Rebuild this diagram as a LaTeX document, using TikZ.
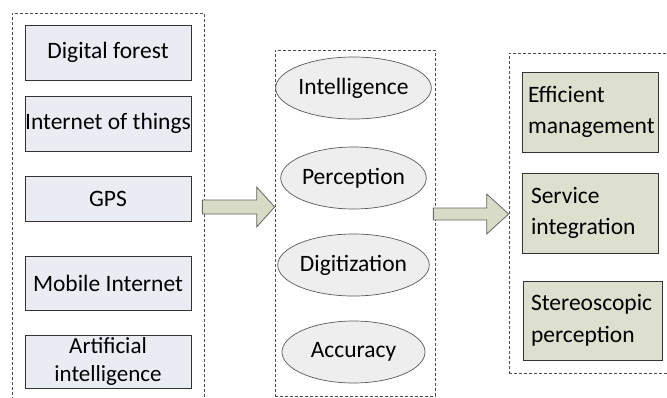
\documentclass[tikz,border=0pt]{standalone}
\usepackage{fontspec}
\setmainfont{Carlito}
\usetikzlibrary{positioning,calc,shapes.geometric}

\definecolor{leftfill}{HTML}{E9ECF3}
\definecolor{ovalfill}{HTML}{EEEEEE}
\definecolor{rightfill}{HTML}{DDDFCF}
\definecolor{arrowfill}{HTML}{D8DCC6}

\begin{document}
\begin{tikzpicture}[x=1pt, y=-1pt,
      frame/.style = {draw=black!70, dashed, dash pattern=on 3pt off 2pt, line width=0.7pt, inner sep=0pt},
      src/.style = {draw=black!80, line width=0.9pt, fill=leftfill, minimum width=166pt, inner sep=0pt, align=center},
      oval/.style = {draw=black!65, line width=0.7pt, fill=ovalfill, ellipse, minimum width=143pt, minimum height=62pt, inner sep=0pt},
      goal/.style = {draw=black!80, line width=0.9pt, fill=rightfill, inner xsep=6pt, align=left},
      fatarrow/.style = {draw=black!60, line width=0.8pt, fill=arrowfill, line join=miter},
      font=\fontsize{23.5}{31.5}\selectfont]
      \clip (0,0) rectangle (667,397);

      % dashed frames
      \node[frame, minimum width=192pt, minimum height=397pt] (lf) at (108,211.5) {};
      \node[frame, minimum width=160pt, minimum height=346pt] (mf) at (355,223) {};
      \node[frame, minimum width=171pt, minimum height=320pt] (rf) at (594.5,213) {};

      % technologies
      \node[src, minimum height=55pt] (df) at (108,52.5) {Digital forest};
      \node[src, minimum height=55pt] (iot) at (108,123.5) {Internet of things};
      \node[src, minimum height=45pt] (gps) at (108,198.5) {GPS};
      \node[src, minimum height=54pt] (mi) at (108,283) {Mobile Internet};
      \node[src, minimum height=53pt, font=\fontsize{23}{28.5}\selectfont] (ai) at (108,361.5) {Artificial\\intelligence};

      % features
      \node[oval] (int) at (353.5,88) {Intelligence};
      \node[oval] (per) at (353.5,178) {Perception};
      \node[oval] (dig) at (353.5,265) {Digitization};
      \node[oval] (acc) at (353.5,352) {Accuracy};

      % goals
      \node[goal, minimum width=136pt, minimum height=80pt, text width=124pt] (em) at (590,112) {Efficient\\management};
      \node[goal, minimum width=136pt, minimum height=80pt, text width=124pt] (si) at (590,213) {\hspace{3pt}Service\\\hspace{3pt}integration};
      \node[goal, minimum width=139pt, minimum height=79pt, text width=127pt] (sp) at (592.5,320.5) {\hspace{2pt}Stereoscopic\\\hspace{2pt}perception};

      % arrows between frames
      \coordinate (p1) at (lf.east |- 0,207);
      \coordinate (p2) at (mf.west |- 0,207);
      \coordinate (q1) at (mf.east |- 0,214);
      \coordinate (q2) at (rf.west |- 0,214);
      \draw[fatarrow] ($(p1)+(-2,-7)$) -- ($(p2)+(-18,-7)$) -- ($(p2)+(-18,-20)$) -- (p2)
        -- ($(p2)+(-18,20)$) -- ($(p2)+(-18,7)$) -- ($(p1)+(-2,7)$) -- cycle;
      \draw[fatarrow] ($(q1)+(-2,-6)$) -- ($(q2)+(-22,-6)$) -- ($(q2)+(-22,-20)$) -- (q2)
        -- ($(q2)+(-22,20)$) -- ($(q2)+(-22,6)$) -- ($(q1)+(-2,6)$) -- cycle;
    \end{tikzpicture}
\end{document}
